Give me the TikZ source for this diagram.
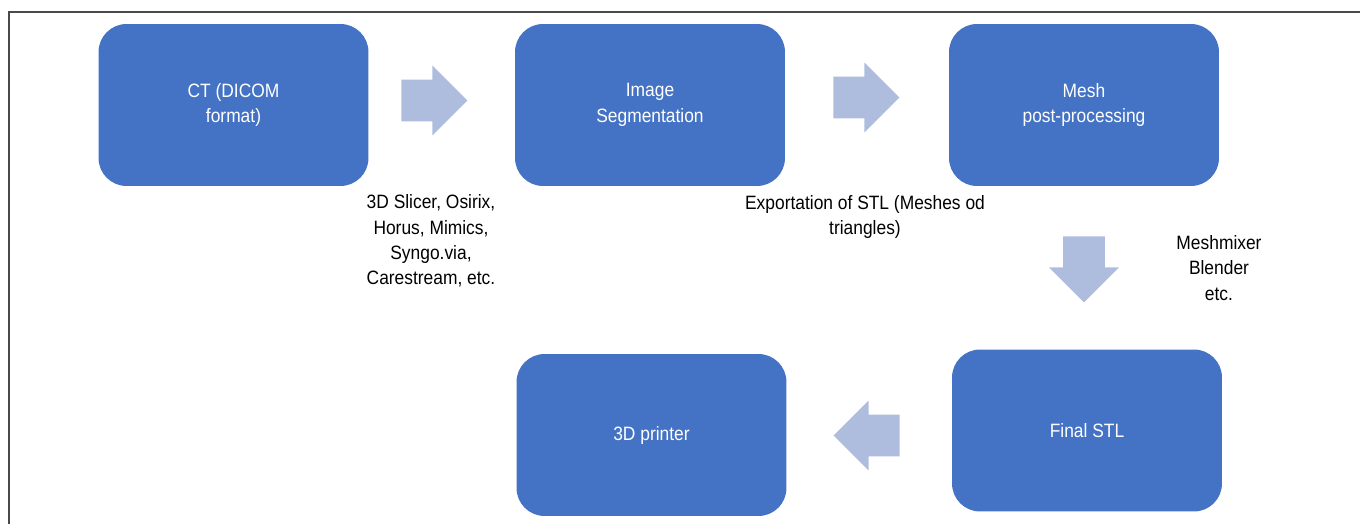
\documentclass[tikz,border=0pt]{standalone}
\usepackage{fontspec}
\setmainfont{Liberation Sans}[FakeStretch=0.9]
\usepackage{tikz}
\usetikzlibrary{shapes.arrows}
\definecolor{boxblue}{HTML}{4472C4}
\definecolor{arrowblue}{HTML}{AEBDDE}
\definecolor{framegray}{HTML}{4A4A4A}

\begin{document}
\begin{tikzpicture}[x=0.02cm,y=-0.02cm,
	stage/.style={fill=boxblue, rounded corners=0.56cm, minimum width=5.4cm, minimum height=3.24cm,
		text=white, align=center, inner sep=0pt, font=\fontsize{11}{14.4}\selectfont},
	blockarrow/.style={single arrow, fill=arrowblue, inner xsep=0pt, inner ysep=0.41cm, anchor=tail,
		minimum height=1.32cm, minimum width=0.82cm, single arrow head extend=0.28cm},
	tool/.style={align=center, inner sep=0pt, font=\fontsize{11}{14.4}\selectfont}]
	\useasboundingbox (0,0) rectangle (1360,524);
	\draw[framegray, line width=0.8pt] (9,524) -- (9,12) -- (1360,12);

	% processing stages
	\node[stage] (ct) at (233.5,105) {CT (DICOM\\format)};
	\node[stage] (seg) at (650,105) {Image\\Segmentation};
	\node[stage] (mesh) at (1084,105) {Mesh\\post-processing};
	\node[stage] (final) at (1087,430.5) {Final STL};
	\node[stage] (printer) at (651.5,435) {3D printer};

	% block arrows (placed by their tails)
	\node[blockarrow] (ctseg) at (401,100.5) {};
	\node[blockarrow] (segmesh) at (833,97.5) {};
	\node[blockarrow, rotate=-90] (meshfinal) at (1084,236) {};
	\node[blockarrow, rotate=180] (finalprinter) at (900,435.5) {};

	% software
	\node[tool] (segtools) at (431,241) {3D Slicer, Osirix,\\Horus, Mimics,\\Syngo.via,\\Carestream, etc.};
	\node[tool] (export) at (865,217) {Exportation of STL (Meshes od\\triangles)};
	\node[tool] (meshtools) at (1219,268) {Meshmixer\\Blender\\etc.};
\end{tikzpicture}
\end{document}
